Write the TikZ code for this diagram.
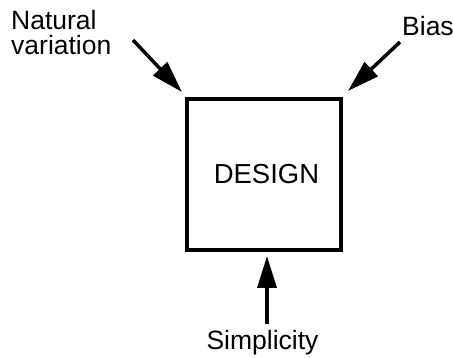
\documentclass[tikz,border=0pt]{standalone}
\usepackage{fontspec}
\setmainfont{Liberation Sans}
\usetikzlibrary{arrows.meta}
\begin{document}
\begin{tikzpicture}[x=1pt,y=-1pt,
  lbl/.style={inner sep=0pt,font=\fontsize{26.5}{25}\selectfont},
  box/.style={draw,line width=3.5pt,minimum width=154pt,minimum height=151pt,inner sep=0pt},
  arr/.style={line width=3.5pt,-{Triangle[length=32pt,width=19pt]}}]
\useasboundingbox (0,0) rectangle (453,358);
\node[box] (design) at (264,174.5) {};
\node[lbl,anchor=base,font=\fontsize{27.5}{25}\selectfont] (dtext) at (266.5,184) {DESIGN};
\node[lbl,anchor=base west,align=left] (nat) at (11,55) {Natural\\variation};
\node[lbl,anchor=base west] (bias) at (402,36) {Bias};
\node[lbl,anchor=base] (simp) at (262.5,350) {Simplicity};
\coordinate (ns) at (133,40);
\coordinate (bs) at (400,42);
\coordinate (ss) at (267,324);
\coordinate (nt) at (182,92);
\coordinate (bt) at (348,91);
\coordinate (st) at (267,256);
\draw[arr] (ns) -- (nt);
\draw[arr] (bs) -- (bt);
\draw[arr] (ss) -- (st);
\end{tikzpicture}
\end{document}
